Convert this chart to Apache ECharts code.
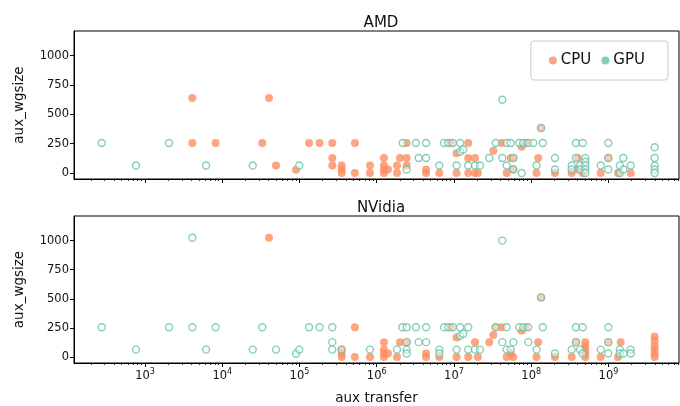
<!DOCTYPE html>
<html><head><meta charset="utf-8">
<script src="https://cdn.jsdelivr.net/npm/echarts@6/dist/echarts.min.js"></script>
<style>html,body{margin:0;padding:0;background:#fff}#c{width:680px;height:406px}</style>
</head><body><div id="c"></div>
<script>
// ---- data (aux transfer, aux_wgsize) ----
const panelTitles = ['AMD', 'NVidia'];
const legendNames = ['CPU', 'GPU'];
const yTicks = [0, 250, 500, 750, 1000];
const xTickExps = [3, 4, 5, 6, 7, 8, 9];

const amdCpuX = [4100,4100,8220,33000,40300,49700,90200,133000,182000,266000,266000,266000,352000,352000,352000,522000,522000,818000,818000,1.24e6,1.24e6,1.24e6,1.24e6,1.4e6,1.83e6,1.83e6,2.0e6,2.44e6,2.44e6,2.44e6,4.35e6,4.35e6,6.46e6,9.0e6,1.08e7,1.08e7,1.53e7,1.53e7,1.53e7,1.87e7,1.87e7,2.04e7,3.23e7,4.15e7,4.81e7,5.42e7,5.86e7,5.86e7,7.52e7,8.55e7,1.17e8,1.23e8,1.34e8,2.03e8,3.34e8,3.99e8,3.99e8,4.63e8,7.93e8,9.95e8,1.33e9,1.94e9];
const amdCpuY = [640,256,256,256,640,64,28,256,256,256,128,64,64,30,0,256,0,64,0,128,64,30,0,30,64,0,128,256,128,64,30,0,0,256,168,0,256,128,0,128,0,0,190,256,0,128,128,30,225,256,0,128,384,0,0,128,30,0,0,128,0,0];

const amdGpuX = [275,764,2050,6170,24800,99500,2.17e6,2.44e6,3.22e6,3.49e6,4.35e6,4.35e6,6.46e6,7.43e6,8.43e6,9.62e6,1.08e7,1.2e7,1.2e7,1.32e7,1.53e7,1.87e7,2.17e7,2.86e7,3.47e7,4.22e7,4.22e7,4.81e7,4.81e7,5.42e7,5.86e7,5.86e7,7.0e7,7.52e7,7.89e7,9.16e7,1.06e8,1.17e8,1.34e8,1.41e8,2.03e8,2.03e8,3.34e8,3.34e8,3.79e8,3.79e8,4.3e8,4.3e8,4.63e8,5.01e8,5.01e8,5.01e8,5.01e8,5.01e8,7.93e8,9.95e8,9.95e8,9.95e8,1.4e9,1.4e9,1.56e9,1.56e9,1.94e9,3.96e9,3.96e9,3.96e9,3.96e9,3.96e9];
const amdGpuY = [256,64,256,64,64,64,256,30,256,128,256,128,64,256,256,256,64,256,182,200,64,64,64,128,256,625,128,256,64,256,128,32,256,0,256,256,256,64,384,256,128,30,64,30,256,128,64,30,256,128,96,64,30,0,64,256,128,30,64,0,128,30,64,220,128,64,30,0];

const nvCpuX = [40300,352000,352000,352000,522000,522000,818000,1.24e6,1.24e6,1.24e6,1.24e6,1.4e6,1.83e6,2.0e6,2.44e6,4.35e6,4.35e6,6.46e6,9.0e6,1.08e7,1.08e7,1.53e7,1.87e7,2.04e7,2.86e7,3.23e7,3.47e7,4.15e7,4.81e7,5.42e7,5.86e7,7.52e7,8.55e7,1.17e8,1.23e8,1.34e8,2.03e8,3.34e8,3.79e8,5.01e8,5.01e8,5.01e8,5.01e8,5.01e8,7.93e8,9.95e8,1.44e9,1.33e9,3.96e9,3.96e9,3.96e9,3.96e9,3.96e9,3.96e9];
const nvCpuY = [1024,64,30,0,256,0,0,128,64,30,0,30,0,128,128,30,0,0,256,168,0,0,128,0,128,190,256,256,0,30,0,225,256,0,128,512,0,0,128,128,96,64,30,0,0,128,128,0,176,140,96,64,30,0];

const nvGpuX = [275,764,2050,4100,4100,6170,8220,24800,33000,49700,90200,99500,133000,182000,266000,266000,266000,352000,818000,1.83e6,2.15e6,2.44e6,2.44e6,2.44e6,2.44e6,3.22e6,3.49e6,4.35e6,4.35e6,6.46e6,6.46e6,7.43e6,8.43e6,9.62e6,1.08e7,1.2e7,1.2e7,1.32e7,1.53e7,1.53e7,1.87e7,2.17e7,3.47e7,4.22e7,4.22e7,4.81e7,4.81e7,5.42e7,5.86e7,7.0e7,7.89e7,9.16e7,9.16e7,1.17e8,1.34e8,1.41e8,2.03e8,3.34e8,3.79e8,3.79e8,4.3e8,4.63e8,4.63e8,7.93e8,9.95e8,9.95e8,9.95e8,1.4e9,1.4e9,1.56e9,1.94e9,1.94e9];
const nvGpuY = [256,64,256,1024,256,64,256,64,256,64,28,64,256,256,256,128,64,64,64,64,256,256,128,64,30,256,128,256,128,64,30,256,256,256,64,256,182,200,256,64,64,64,256,1000,128,256,64,64,128,256,256,256,128,64,512,256,30,64,256,128,64,256,30,64,256,128,30,64,30,30,64,30];

// ---- chart ----
const CPU_COLOR = '#fc8d62', GPU_COLOR = '#66c2a5';
const XMIN = 2.081, XMAX = 9.913, YMIN = -51, YMAX = 1211;
const FONT = 'DejaVu Sans';
const minorTicks = [];
for (let e = 2; e <= 9; e++) for (let k = 2; k <= 9; k++) {
  const v = e + Math.log10(k);
  if (v > XMIN && v < XMAX) minorTicks.push(v);
}
const pairs = (xs, ys) => xs.map((x, i) => [Math.log10(x), ys[i]]);

const grids = [
  {left: 74, top: 31, width: 605, height: 148, show: true, borderColor: '#000', borderWidth: 1, backgroundColor: '#fff'},
  {left: 74, top: 216, width: 605, height: 148, show: true, borderColor: '#000', borderWidth: 1, backgroundColor: '#fff'}
];
const xAxes = [], yAxes = [];
[0, 1].forEach(g => {
  xAxes.push({
    type: 'value', gridIndex: g, min: XMIN, max: XMAX, position: 'bottom',
    axisLine: {show: true, onZero: false, lineStyle: {color: '#000', width: 1}},
    axisTick: {show: true, length: 4, customValues: xTickExps, lineStyle: {color: '#000'}},
    axisLabel: {show: g === 1, customValues: xTickExps, fontFamily: FONT, fontSize: 11.5, color: '#111', margin: 5,
      formatter: v => '10{s|' + Math.round(v) + '}',
      rich: {s: {fontSize: 8, fontFamily: FONT, color: '#111', padding: [0, 0, 8, 0]}}},
    splitLine: {show: false},
    name: g === 1 ? 'aux transfer' : '', nameLocation: 'middle', nameGap: 28,
    nameTextStyle: {fontFamily: FONT, fontSize: 13.5, color: '#111'}
  });
  xAxes.push({
    type: 'value', gridIndex: g, min: XMIN, max: XMAX, position: 'bottom',
    axisLine: {show: false, onZero: false}, axisLabel: {show: false}, splitLine: {show: false},
    axisTick: {show: true, length: 2, customValues: minorTicks, lineStyle: {color: '#000', width: 0.8}}
  });
  yAxes.push({
    type: 'value', gridIndex: g, min: YMIN, max: YMAX,
    axisLine: {show: true, onZero: false, lineStyle: {color: '#000'}},
    axisTick: {show: true, length: 4, customValues: yTicks, lineStyle: {color: '#000'}},
    axisLabel: {customValues: yTicks, fontFamily: FONT, fontSize: 11.5, color: '#111', margin: 5,
      formatter: v => String(v)},
    splitLine: {show: false},
    name: 'aux_wgsize', nameLocation: 'middle', nameGap: 48, nameRotate: 90,
    nameTextStyle: {fontFamily: FONT, fontSize: 13.5, color: '#111'}
  });
});

const cpuStyle = {color: CPU_COLOR};
const gpuStyle = {color: 'rgba(255,255,255,0.55)', borderColor: GPU_COLOR, borderWidth: 1.4};
const series = [
  {name: 'CPU', type: 'scatter', xAxisIndex: 0, yAxisIndex: 0, symbolSize: 8, itemStyle: cpuStyle, data: pairs(amdCpuX, amdCpuY)},
  {name: 'GPU', type: 'scatter', xAxisIndex: 0, yAxisIndex: 0, symbolSize: 7, itemStyle: gpuStyle, data: pairs(amdGpuX, amdGpuY)},
  {name: 'CPU', type: 'scatter', xAxisIndex: 2, yAxisIndex: 1, symbolSize: 8, itemStyle: cpuStyle, data: pairs(nvCpuX, nvCpuY)},
  {name: 'GPU', type: 'scatter', xAxisIndex: 2, yAxisIndex: 1, symbolSize: 7, itemStyle: gpuStyle, data: pairs(nvGpuX, nvGpuY)}
];

const chart = echarts.init(document.getElementById('c'), null, {renderer: 'canvas'});
chart.setOption({
  animation: false,
  backgroundColor: '#fff',
  title: [
    {text: panelTitles[0], left: 376, top: 11, textAlign: 'center', textStyle: {fontFamily: FONT, fontSize: 15, fontWeight: 'normal', color: '#111'}},
    {text: panelTitles[1], left: 376, top: 196, textAlign: 'center', textStyle: {fontFamily: FONT, fontSize: 15, fontWeight: 'normal', color: '#111'}}
  ],
  legend: {
    right: 12, top: 41, orient: 'horizontal',
    data: [
      {name: legendNames[0], icon: 'circle', itemStyle: {color: CPU_COLOR, borderWidth: 0}},
      {name: legendNames[1], icon: 'circle', itemStyle: {color: GPU_COLOR, borderWidth: 0}}
    ],
    itemWidth: 8, itemHeight: 8, itemGap: 10,
    padding: [12, 23, 12, 18],
    backgroundColor: '#fff', borderColor: '#ccc', borderWidth: 1, borderRadius: 3,
    textStyle: {fontFamily: FONT, fontSize: 15, color: '#111', padding: [0, 0, 0, -1]}
  },
  grid: grids, xAxis: xAxes, yAxis: yAxes, series: series
});
</script></body></html>
